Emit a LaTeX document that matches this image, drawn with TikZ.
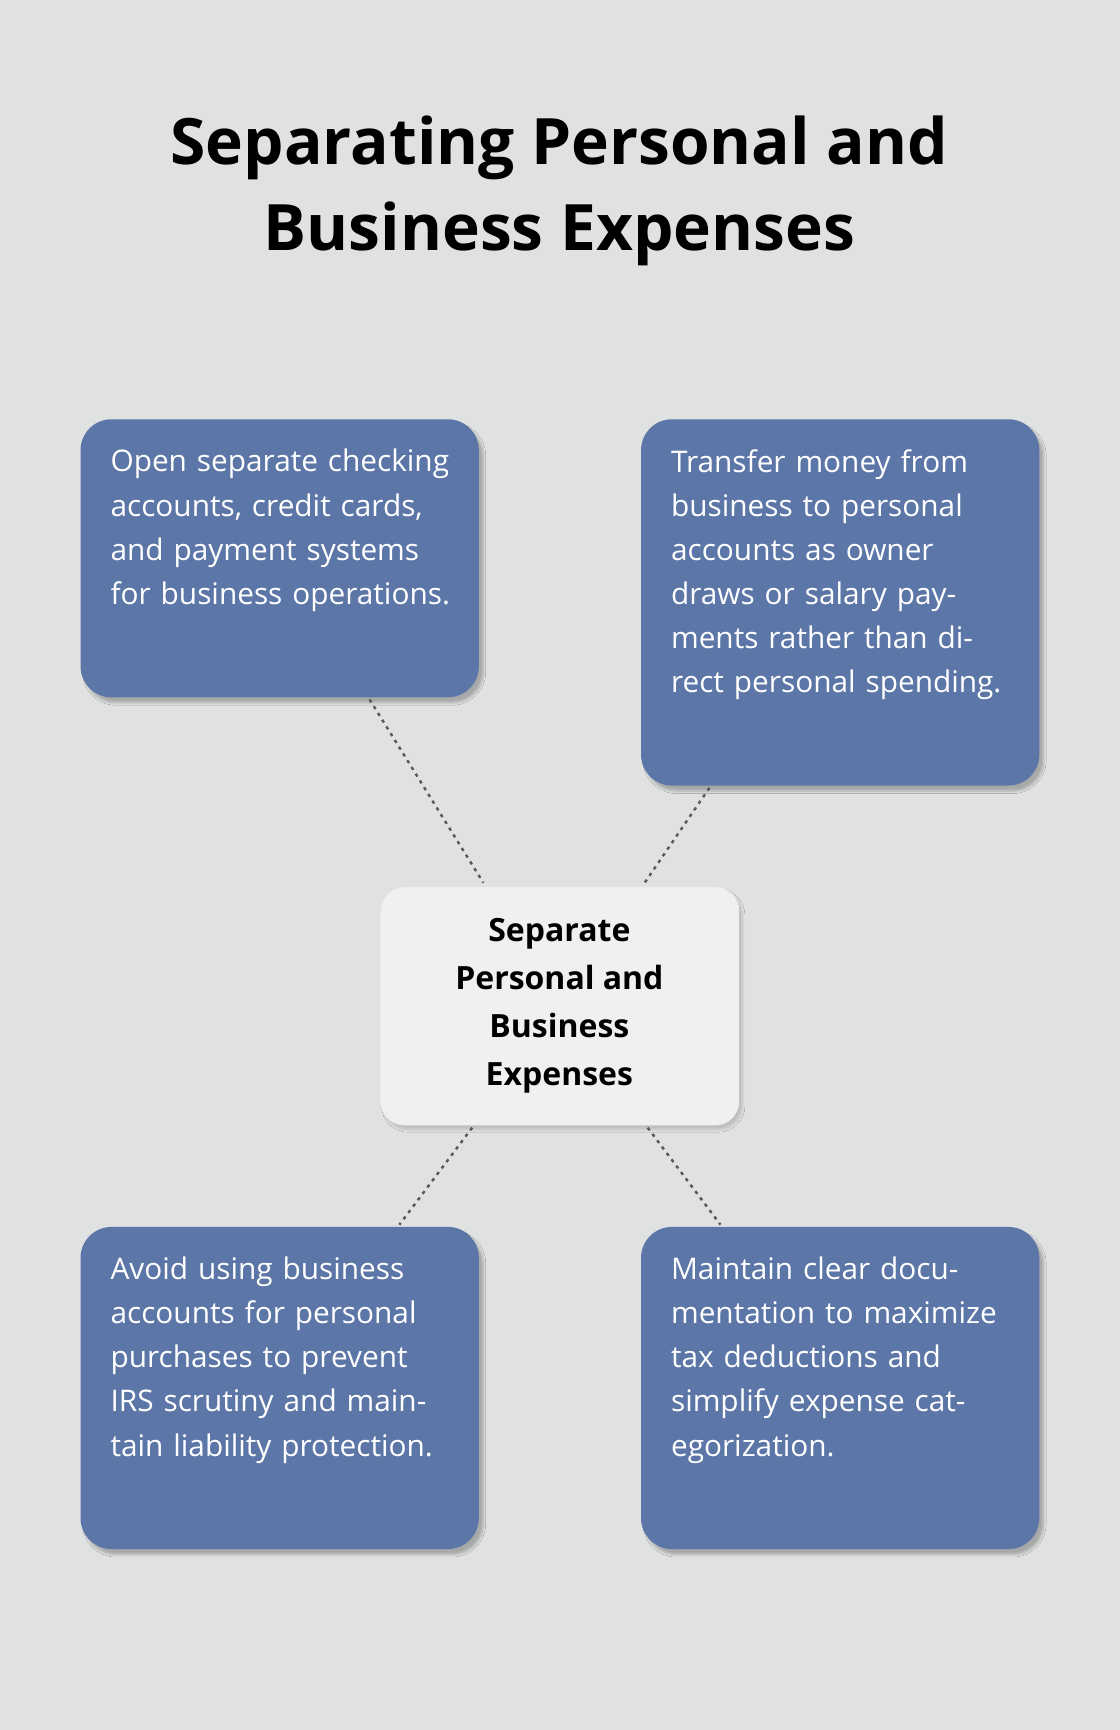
\documentclass[tikz,border=0pt]{standalone}
\usepackage{fontspec}
\setmainfont{Open Sans}
\usetikzlibrary{shadows.blur}
\definecolor{bg}{HTML}{E0E2E2}
\definecolor{boxc}{HTML}{5C76A8}
\definecolor{cen}{HTML}{EFF0F2}
\tikzset{
 card/.style={fill=boxc, rounded corners=28pt, blur shadow={shadow xshift=4pt,shadow yshift=-5pt,shadow blur steps=8,shadow opacity=25}},
 ctext/.style={anchor=north west, text width=320pt, align=left, text=white, font=\fontsize{27}{40}\selectfont, inner sep=0pt},
 link/.style={draw=black!65, line width=2.2pt, dash pattern=on 3pt off 4.2pt}
}
\begin{document}
\begin{tikzpicture}[x=1pt,y=-1pt]
\fill[bg] (0,0) rectangle (1015,1568);
\useasboundingbox (0,0) rectangle (1015,1568);
\node[font=\fontsize{58}{78}\selectfont\bfseries, align=center] (title) at (507,173) {Separating Personal and\\Business Expenses};
\path[card] (73,380) rectangle (434,632);
\path[card] (581,380) rectangle (942,712);
\path[card] (73,1112) rectangle (434,1404);
\path[card] (581,1112) rectangle (942,1404);
\path[fill=cen, rounded corners=22pt, blur shadow={shadow xshift=3pt,shadow yshift=-4pt,shadow blur steps=8,shadow opacity=15}] (345,804) rectangle (670,1020);
\node[ctext] (a) at (100,407) {Open separate checking accounts, credit cards, and payment systems for business operations.};
\node[ctext, text width=300pt] (b) at (608,407) {Transfer money from business to personal accounts as owner draws or salary payments rather than direct personal spending.};
\node[ctext, text width=300pt] (c) at (100,1139) {Avoid using business accounts for personal purchases to prevent IRS scrutiny and maintain liability protection.};
\node[ctext, text width=300pt] (d) at (608,1139) {Maintain clear documentation to maximize tax deductions and simplify expense categorization.};
\node[font=\fontsize{29}{43.5}\selectfont\bfseries, align=center] (m) at (507,912) {Separate\\Personal and\\Business\\Expenses};
\coordinate (a1) at (335,634); \coordinate (m1) at (438,800);
\coordinate (b1) at (643,714); \coordinate (m2) at (583,802);
\coordinate (c1) at (362,1110); \coordinate (m3) at (428,1022);
\coordinate (d1) at (653,1110); \coordinate (m4) at (587,1022);
\draw[link] (a1) -- (m1);
\draw[link] (b1) -- (m2);
\draw[link] (m3) -- (c1);
\draw[link] (m4) -- (d1);
\end{tikzpicture}
\end{document}
